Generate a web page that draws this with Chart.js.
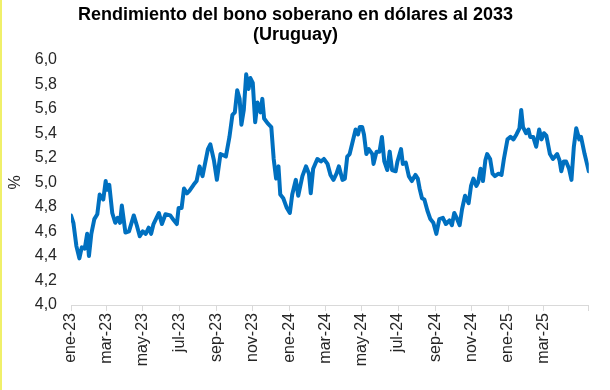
<!DOCTYPE html>
<html>
<head>
<meta charset="utf-8">
<script src="https://cdn.jsdelivr.net/npm/chart.js@4"></script>
<style>
  body { margin: 0; background: #fff; }
  #wrap { position: relative; width: 610px; height: 390px; }
  #edge { position: absolute; left: 0; top: 0; width: 2px; height: 390px; background: #f0f06a; }
</style>
</head>
<body>
<div id="wrap">
  <canvas id="chart" width="610" height="390"></canvas>
  <div id="edge"></div>
</div>
<script>
// days counted from 1 Jan 2023
const dayOffsets = [0,4,9,14,18,23,27,30,34,39,44,48,54,58,60,64,69,74,78,82,85,91,97,105,110,115,120,125,130,134,138,147,152,158,166,172,177,180,185,189,194,198,205,210,215,220,229,233,239,244,250,255,259,265,270,274,278,282,285,289,293,297,300,304,308,312,317,320,323,329,335,339,343,347,350,355,361,366,370,376,380,387,393,398,401,405,412,418,423,429,434,439,444,448,454,458,462,466,470,476,480,483,487,490,494,498,504,506,511,516,520,524,529,533,537,543,546,552,555,560,565,570,576,580,583,587,591,596,601,606,611,616,622,627,633,637,641,645,650,654,659,665,669,673,678,681,685,689,693,696,701,705,709,715,720,724,730,735,740,745,750,753,756,761,765,768,773,778,783,787,791,795,801,806,813,817,820,824,828,833,837,841,845,850,853,859,863,866];
const yields = [4.73,4.67,4.48,4.38,4.47,4.46,4.58,4.40,4.58,4.70,4.74,4.90,4.86,5.01,4.94,4.98,4.75,4.67,4.71,4.67,4.81,4.59,4.60,4.73,4.65,4.56,4.60,4.58,4.63,4.58,4.66,4.75,4.66,4.74,4.73,4.69,4.66,4.79,4.79,4.95,4.91,4.93,4.98,5.01,5.13,5.05,5.27,5.31,5.18,5.02,5.23,5.22,5.21,5.37,5.55,5.57,5.75,5.68,5.47,5.59,5.88,5.76,5.85,5.81,5.49,5.65,5.57,5.68,5.52,5.48,5.45,5.19,5.03,5.13,4.90,4.87,4.79,4.75,4.90,5.02,4.89,5.05,5.13,5.07,4.91,5.11,5.19,5.17,5.19,5.15,5.06,5.02,5.07,5.13,5.02,5.03,5.21,5.23,5.31,5.43,5.39,5.45,5.45,5.39,5.23,5.27,5.23,5.15,5.25,5.25,5.37,5.17,5.10,5.25,5.10,5.09,5.17,5.27,5.15,5.16,5.05,5.01,5.06,5.03,4.95,4.87,4.86,4.77,4.70,4.67,4.58,4.70,4.71,4.66,4.69,4.65,4.75,4.71,4.65,4.78,4.89,4.83,4.97,5.03,4.97,5.00,5.11,5.01,5.18,5.23,5.19,5.07,5.05,5.07,5.06,5.19,5.35,5.37,5.35,5.39,5.44,5.59,5.45,5.40,5.43,5.37,5.37,5.29,5.43,5.35,5.40,5.38,5.23,5.19,5.23,5.18,5.09,5.17,5.17,5.11,5.02,5.29,5.44,5.35,5.37,5.23,5.15,5.09,5.10];

const tickLabels = ["ene-23","mar-23","may-23","jul-23","sep-23","nov-23","ene-24","mar-24","may-24","jul-24","sep-24","nov-24","ene-25","mar-25"];
const tickDates = ["2023-01-01","2023-03-01","2023-05-01","2023-07-01","2023-09-01","2023-11-01","2024-01-01","2024-03-01","2024-05-01","2024-07-01","2024-09-01","2024-11-01","2025-01-01","2025-03-01"];
const lastDay = 866;

const dayOf = function (s) {
    return Math.round((Date.parse(s) - Date.parse("2023-01-01")) / 86400000);
};
const tickDays = tickDates.map(dayOf);

const axisFont = { family: "'Liberation Sans', Arial, sans-serif", size: 16 };
const textColor = "#262626";

new Chart(document.getElementById("chart").getContext("2d"), {
    type: "line",
    data: {
        datasets: [{
            data: dayOffsets.map(function (d, i) { return { x: d, y: yields[i] }; }),
            borderColor: "#0070C0",
            borderWidth: 4,
            borderJoinStyle: "round",
            borderCapStyle: "round",
            pointRadius: 0,
            tension: 0,
            fill: false
        }]
    },
    options: {
        responsive: false,
        animation: false,
        layout: { padding: { left: 0, right: 19, top: 0, bottom: 0 } },
        plugins: {
            legend: { display: false },
            tooltip: { enabled: false },
            title: {
                display: true,
                text: ["Rendimiento del bono soberano en dólares al 2033", "(Uruguay)"],
                color: "#000",
                font: { family: "'Liberation Sans', Arial, sans-serif", size: 18, weight: "bold", lineHeight: 1.1 },
                padding: { top: 5, bottom: 15 }
            }
        },
        scales: {
            x: {
                type: "linear",
                min: 0,
                max: lastDay,
                afterBuildTicks: function (scale) {
                    scale.ticks = tickDays.map(function (v) { return { value: v }; });
                    scale.ticks.push({ value: lastDay });
                },
                afterFit: function (scale) { scale.height = 85; },
                ticks: {
                    autoSkip: false,
                    minRotation: 90,
                    maxRotation: 90,
                    padding: 2,
                    color: textColor,
                    font: axisFont,
                    callback: function (value) {
                        const i = tickDays.indexOf(value);
                        return i >= 0 ? tickLabels[i] : "";
                    }
                },
                grid: { drawOnChartArea: false, drawTicks: true, tickLength: 6, color: "#d9d9d9" },
                border: { display: true, color: "#d9d9d9" }
            },
            y: {
                min: 4,
                max: 6,
                afterFit: function (scale) { scale.width = 71; },
                ticks: {
                    stepSize: 0.2,
                    padding: 6,
                    color: textColor,
                    font: axisFont,
                    callback: function (value) { return value.toFixed(1).replace(".", ","); }
                },
                title: { display: true, text: "%", color: textColor, font: axisFont, padding: { top: 6, bottom: 0 } },
                grid: { display: false },
                border: { display: false }
            }
        }
    }
});
</script>
</body>
</html>
